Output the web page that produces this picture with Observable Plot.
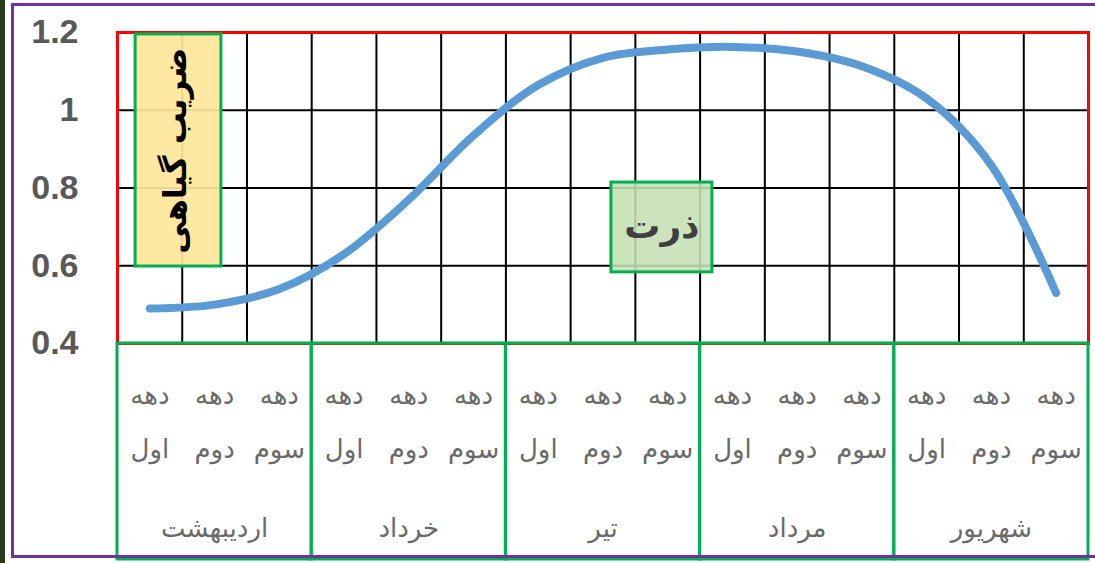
<!DOCTYPE html>
<html>
<head>
<meta charset="utf-8">
<script src="https://cdn.jsdelivr.net/npm/d3@7"></script>
<script src="https://cdn.jsdelivr.net/npm/@observablehq/plot@0.6"></script>
<style>
  html, body { margin: 0; padding: 0; background: #fff; width: 1095px; height: 563px; overflow: hidden; }
  #strip { position: absolute; left: 0; top: 0; width: 5px; height: 563px; background: #263a1c; }
  #border { position: absolute; left: 11px; top: 3px; width: 1100px; height: 549px; border: 3px solid #7030A0; box-sizing: content-box; z-index: 2; pointer-events: none; }
  #chart { position: absolute; left: 0; top: 0; z-index: 1; }
</style>
</head>
<body>
<div id="strip"></div>
<div id="border"></div>
<div id="chart"></div>
<script>
// ---- data ----
const months = ["اردیبهشت", "خرداد", "تیر", "مرداد", "شهریور"];
const decadeWord = "دهه";
const decadeNames = ["اول", "دوم", "سوم"];
const kcValues = [0.49, 0.50, 0.54, 0.63, 0.77, 0.935, 1.065, 1.135, 1.156, 1.163, 1.151, 1.113, 1.03, 0.858, 0.53];
const yTicks = [0.4, 0.6, 0.8, 1, 1.2];
const yTickLabels = ["0.4", "0.6", "0.8", "1", "1.2"];
const yAxisTitle = "ضریب گیاهی";
const cropName = "ذرت";

// ---- derived tables ----
const decades = kcValues.map((v, i) => ({
  i,
  month: months[Math.floor(i / 3)],
  name: decadeNames[i % 3],
  kc: v
}));
const monthRows = months.map((m, i) => ({ m, i }));

const arabicFont = "'DejaVu Sans', 'Noto Sans', sans-serif";
const gray = "#595959";
const lightGray = "#6a6a6a";

const plot = Plot.plot({
  width: 1095,
  height: 563,
  marginLeft: 117,
  marginRight: 7,
  marginTop: 32,
  marginBottom: 220,
  x: { domain: [0, 15], axis: null },
  y: { domain: [0.4, 1.2], axis: null },
  style: { background: "transparent", overflow: "visible" },
  marks: [
    Plot.gridX(d3.range(1, 15), { stroke: "#000", strokeOpacity: 1, strokeWidth: 2 }),
    Plot.gridY([0.6, 0.8, 1.0], { stroke: "#000", strokeOpacity: 1, strokeWidth: 2 }),
    Plot.axisY({
      ticks: yTicks,
      tickFormat: (d) => yTickLabels[yTicks.indexOf(d)],
      tickSize: 0,
      tickPadding: 39,
      fontSize: 34,
      fontWeight: "bold",
      fontFamily: "'Liberation Sans', Arial, sans-serif",
      fill: gray,
      label: null
    }),
    Plot.line(decades, {
      x: (d) => d.i + 0.5,
      y: "kc",
      curve: "catmull-rom",
      stroke: "#5B9BD5",
      strokeWidth: 8,
      strokeLinecap: "round",
      strokeLinejoin: "round"
    }),
    Plot.frame({ stroke: "#FF0000", strokeWidth: 3 }),
    // month boxes below the plot frame
    Plot.rect(monthRows, {
      x1: (d) => d.i * 3,
      x2: (d) => d.i * 3 + 3,
      y1: () => 0.4,
      y2: () => 0.4,
      insetBottom: -216,
      fill: "none",
      stroke: "#00B050",
      strokeWidth: 3
    }),
    Plot.text(decades, {
      x: (d) => d.i + 0.5,
      y: () => 0.4,
      text: () => decadeWord,
      dy: 52,
      fontSize: 26,
      fontFamily: arabicFont,
      fill: lightGray
    }),
    Plot.text(decades, {
      x: (d) => d.i + 0.5,
      y: () => 0.4,
      text: "name",
      dy: 106,
      fontSize: 26,
      fontFamily: arabicFont,
      fill: lightGray
    }),
    Plot.text(monthRows, {
      x: (d) => d.i * 3 + 1.5,
      y: () => 0.4,
      text: "m",
      dy: 185,
      fontSize: 26,
      fontFamily: arabicFont,
      fill: lightGray
    }),
    // y-axis title box
    Plot.rect([yAxisTitle], {
      x1: () => 0.28,
      x2: () => 1.605,
      y1: () => 0.598,
      y2: () => 1.195,
      fill: "#FFE699",
      fillOpacity: 0.92,
      stroke: "#00B050",
      strokeWidth: 3
    }),
    Plot.text([yAxisTitle], {
      x: () => 0.9,
      y: () => 0.896,
      text: (d) => d,
      rotate: -90,
      fontSize: 32,
      fontWeight: "bold",
      fontFamily: arabicFont,
      fill: "#000"
    }),
    // crop label box
    Plot.rect([cropName], {
      x1: () => 7.63,
      x2: () => 9.19,
      y1: () => 0.583,
      y2: () => 0.814,
      fill: "#C5E0B4",
      fillOpacity: 0.88,
      stroke: "#00B050",
      strokeWidth: 3
    }),
    Plot.text([cropName], {
      x: () => 8.41,
      y: () => 0.7,
      text: (d) => d,
      fontSize: 36,
      fontWeight: "bold",
      fontFamily: arabicFont,
      fill: "#404040"
    })
  ]
});
document.getElementById("chart").appendChild(plot);
</script>
</body>
</html>
